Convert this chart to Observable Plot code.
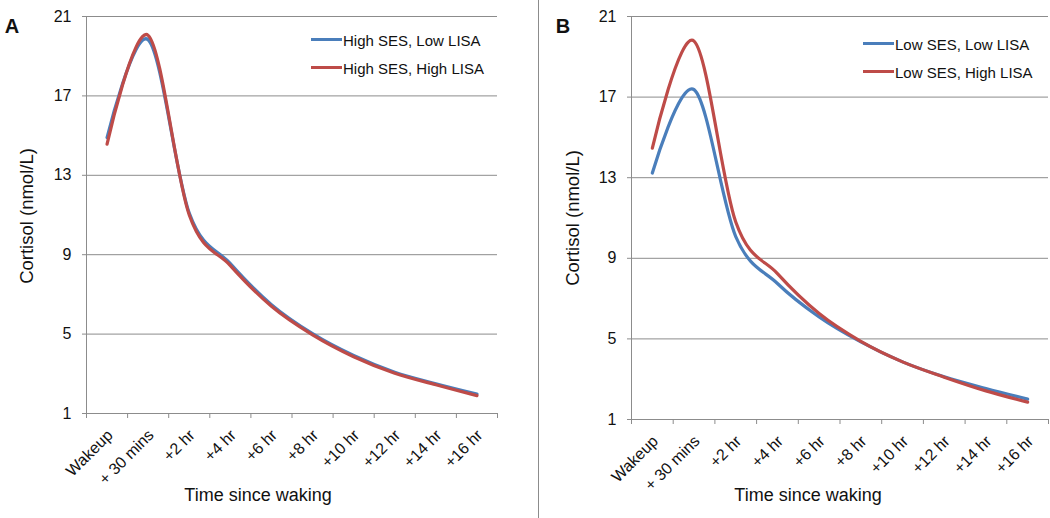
<!DOCTYPE html>
<html><head><meta charset="utf-8">
<script src="https://cdn.jsdelivr.net/npm/d3@7"></script>
<script src="https://cdn.jsdelivr.net/npm/@observablehq/plot@0.6"></script>
<style>
body{margin:0;background:#fff;font-family:"Liberation Sans",Arial,sans-serif;}
#wrap{position:relative;width:1050px;height:518px;overflow:hidden;background:#fff;}
.panel{position:absolute;top:0;}
.lbl{position:absolute;color:#111;white-space:nowrap;line-height:1;}
.sw{position:absolute;height:3px;}
</style></head><body><div id="wrap"></div>
<script>
const categories = ["Wakeup", "+ 30 mins", "+2 hr", "+4 hr", "+6 hr", "+8 hr", "+10 hr", "+12 hr", "+14 hr", "+16 hr"];
const yTicks = [1, 5, 9, 13, 17, 21];
const seriesA = ["High SES, Low LISA", "High SES, High LISA"];
const seriesB = ["Low SES, Low LISA", "Low SES, High LISA"];
const highSesLowLisa  = [14.90, 19.83, 11.10, 8.55, 6.48, 5.02, 3.92, 3.08, 2.50, 1.98];
const highSesHighLisa = [14.57, 20.05, 11.00, 8.45, 6.40, 4.96, 3.86, 3.03, 2.45, 1.90];
const lowSesLowLisa   = [13.23, 17.37, 10.08, 7.75, 6.09, 4.85, 3.86, 3.12, 2.54, 2.01];
const lowSesHighLisa  = [14.47, 19.78, 10.80, 8.24, 6.26, 4.88, 3.86, 3.10, 2.42, 1.86];
const colors = ["#4a7ebb", "#be4b48"];
const yLabel = "Cortisol (nmol/L)";
const xLabel = "Time since waking";

function panel({width, marginLeft, marginRight, marginBottom, series, values}) {
  const rows = [];
  series.forEach((s, k) => values[k].forEach((v, i) => rows.push({series: s, xi: i + 0.5, value: v})));
  return Plot.plot({
    width, height: 518, marginTop: 16, marginBottom, marginLeft, marginRight,
    style: {fontFamily: "'Liberation Sans', Arial, sans-serif", color: "#111", background: "transparent", overflow: "visible"},
    x: {type: "linear", domain: [0, categories.length], axis: null},
    y: {domain: [1, 21], axis: null},
    color: {domain: series, range: colors},
    marks: [
      Plot.ruleY(yTicks, {stroke: "#8c8c8c", strokeWidth: 1}),
      Plot.ruleX([0], {stroke: "#8c8c8c"}),
      Plot.axisY({ticks: yTicks, tickSize: 4, stroke: "#8c8c8c", tickFormat: () => "", label: null}),
      Plot.text(yTicks, {x: 0, y: d => d, text: d => String(d), textAnchor: "end", dx: -15, fontSize: 16, fill: "#111"}),
      Plot.axisX({ticks: d3.range(categories.length + 1), tickSize: 5, tickFormat: () => "", stroke: "#8c8c8c", label: null}),
      Plot.text(categories, {x: (d, i) => i + 0.5, y: 1, text: d => d, rotate: -45, textAnchor: "end", lineAnchor: "middle",
        dx: 3, dy: 19, fontSize: 16, fill: "#111"}),
      Plot.line(rows, {x: "xi", y: "value", z: "series", stroke: "series", strokeWidth: 3.2, curve: "cardinal"})
    ]
  });
}

const wrap = document.getElementById("wrap");
function place(el, left) { el.classList.add("panel"); el.style.left = left + "px"; wrap.appendChild(el); }
place(panel({width: 540, marginLeft: 86, marginRight: 43, marginBottom: 105, series: seriesA, values: [highSesLowLisa, highSesHighLisa]}), 0);
place(panel({width: 510, marginLeft: 91, marginRight: 2, marginBottom: 99, series: seriesB, values: [lowSesLowLisa, lowSesHighLisa]}), 540);

const sep = document.createElement("div");
sep.style.cssText = "position:absolute;left:538px;top:0;width:1px;height:518px;background:#8c8c8c;";
wrap.appendChild(sep);

function label(text, cx, cy, size, extra = "") {
  const d = document.createElement("div");
  d.className = "lbl";
  d.textContent = text;
  d.style.cssText += `left:${cx}px;top:${cy}px;font-size:${size}px;transform:translate(-50%,-50%) ${extra};`;
  wrap.appendChild(d);
}
label("A", 12, 26, 20, ""); wrap.lastChild.style.fontWeight = "bold";
label("B", 563, 26, 20, ""); wrap.lastChild.style.fontWeight = "bold";
label(yLabel, 27, 216, 18.5, "rotate(-90deg)");
label(yLabel, 573, 218, 18.5, "rotate(-90deg)");
label(xLabel, 258, 495, 18);
label(xLabel, 808, 495, 18);

function legend(series, x0, ys) {
  series.forEach((s, k) => {
    const sw = document.createElement("div");
    sw.className = "sw";
    sw.style.cssText += `left:${x0}px;top:${ys[k] - 1.5}px;width:31px;background:${colors[k]};`;
    wrap.appendChild(sw);
    const t = document.createElement("div");
    t.className = "lbl";
    t.textContent = s;
    t.style.cssText += `left:${x0 + 32}px;top:${ys[k]}px;font-size:15px;transform:translate(0,-50%);`;
    wrap.appendChild(t);
  });
}
legend(seriesA, 311, [39.5, 67.5]);
legend(seriesB, 863, [43.5, 71.5]);
</script></body></html>
